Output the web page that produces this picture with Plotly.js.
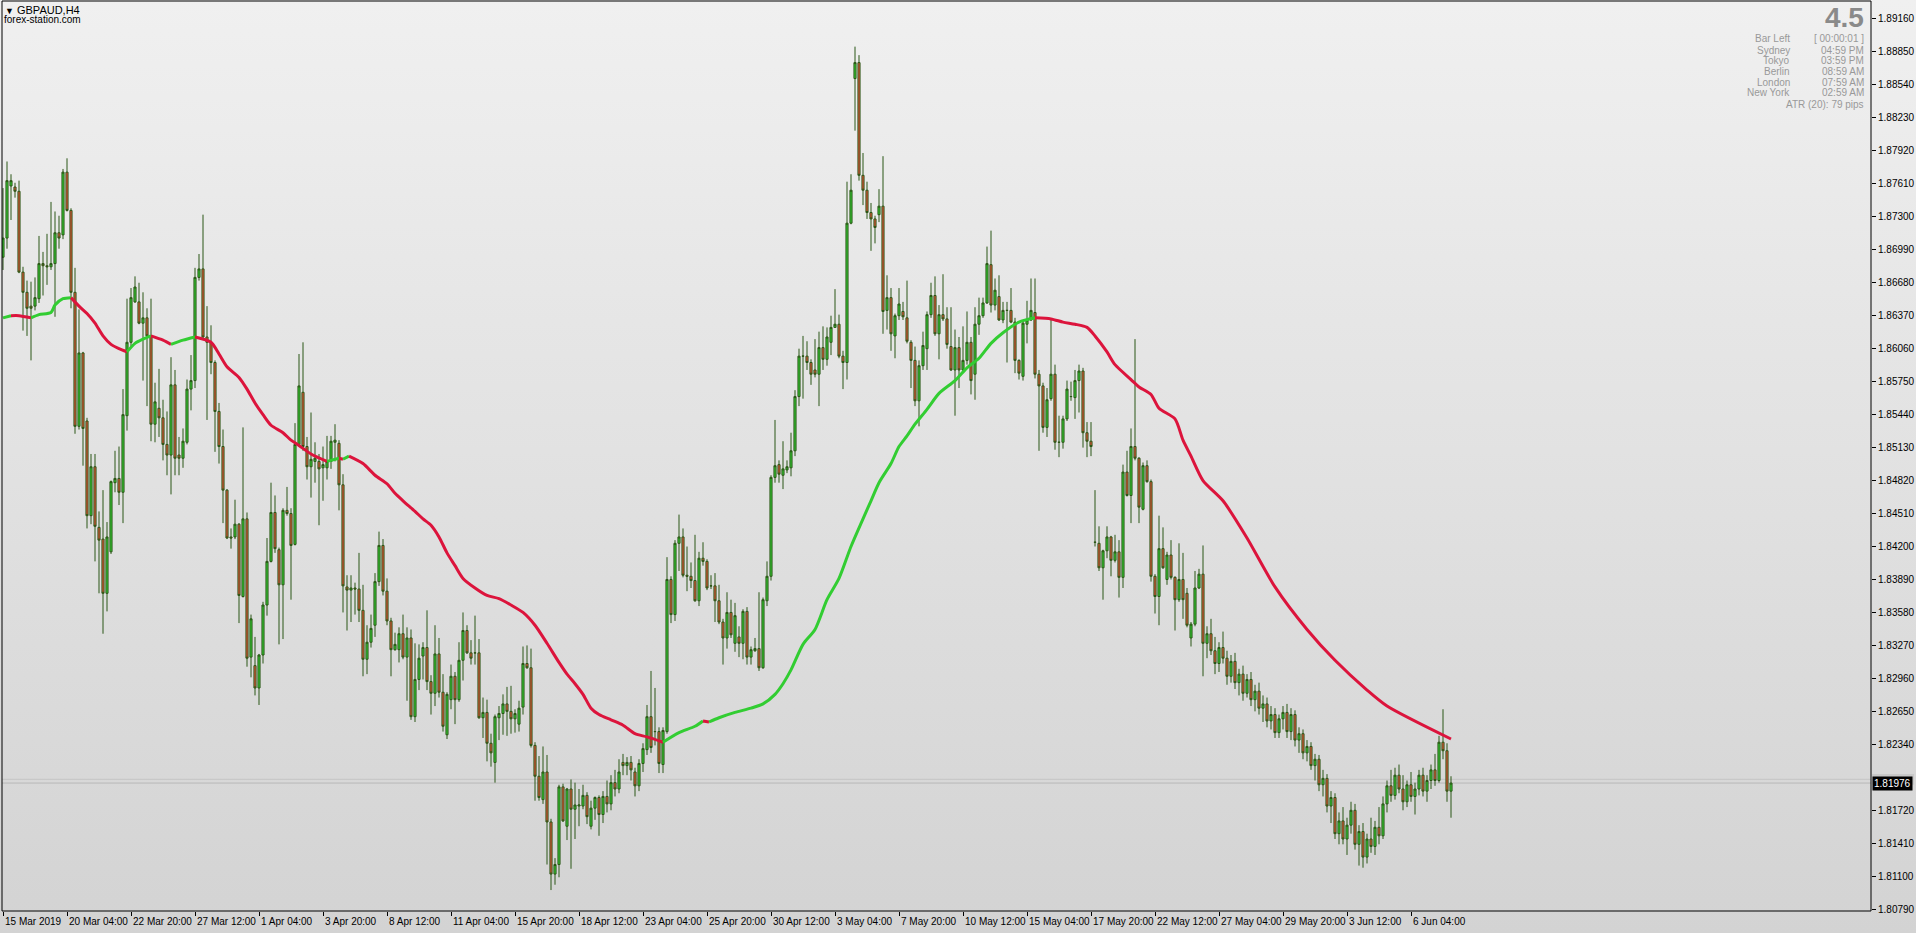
<!DOCTYPE html>
<html><head><meta charset="utf-8">
<script src="https://cdn.plot.ly/plotly-3.0.1.min.js"></script>
<style>
html,body{margin:0;padding:0;width:1916px;height:933px;overflow:hidden;background:linear-gradient(#f0f0f0,#d3d3d3);}
#chart{width:1916px;height:933px;}
</style>
</head><body><div id="chart"></div>
<script>
// ---------------- DATA ----------------
const symbol = 'GBPAUD,H4';
const siteName = 'forex-station.com';
const opens = [
1.8692,1.8710,1.8759,1.8758,1.8754,1.8678,1.8659,1.8646,1.8646,1.8653,
1.8686,1.8684,1.8683,1.8686,1.8715,1.8713,1.8772,1.8736,1.8659,1.8533,
1.8602,1.8538,1.8449,1.8495,1.8438,1.8427,1.8376,1.8415,1.8480,1.8484,
1.8471,1.8543,1.8612,1.8650,1.8650,1.8630,1.8635,1.8618,1.8535,1.8550,
1.8541,1.8516,1.8506,1.8572,1.8506,1.8503,1.8518,1.8568,1.8576,1.8673,
1.8681,1.8617,1.8612,1.8593,1.8547,1.8514,1.8473,1.8429,1.8429,1.8441,
1.8373,1.8446,1.8316,1.8308,1.8287,1.8318,1.8365,1.8406,1.8452,1.8417,
1.8384,1.8454,1.8451,1.8422,1.8516,1.8565,1.8514,1.8495,1.8500,1.8500,
1.8494,1.8494,1.8500,1.8518,1.8517,1.8478,1.8382,1.8379,1.8381,1.8380,
1.8360,1.8314,1.8330,1.8346,1.8387,1.8421,1.8378,1.8350,1.8323,1.8323,
1.8338,1.8316,1.8334,1.8260,1.8295,1.8317,1.8325,1.8293,1.8282,1.8319,
1.8283,1.8243,1.8276,1.8298,1.8276,1.8313,1.8341,1.8320,1.8320,1.8320,
1.8259,1.8264,1.8235,1.8217,1.8259,1.8263,1.8272,1.8265,1.8258,1.8253,
1.8269,1.8310,1.8306,1.8233,1.8204,1.8182,1.8208,1.8161,1.8112,1.8121,
1.8194,1.8157,1.8192,1.8173,1.8176,1.8176,1.8186,1.8157,1.8174,1.8184,
1.8168,1.8185,1.8178,1.8198,1.8192,1.8217,1.8214,1.8217,1.8208,1.8195,
1.8216,1.8229,1.8260,1.8246,1.8246,1.8215,1.8246,1.8389,1.8356,1.8423,
1.8429,1.8393,1.8392,1.8388,1.8369,1.8409,1.8406,1.8383,1.8383,1.8369,
1.8349,1.8334,1.8358,1.8329,1.8335,1.8329,1.8359,1.8316,1.8322,1.8324,
1.8306,1.8369,1.8392,1.8485,1.8497,1.8487,1.8492,1.8494,1.8510,1.8561,
1.8599,1.8599,1.8593,1.8586,1.8582,1.8607,1.8596,1.8612,1.8626,1.8629,
1.8599,1.8593,1.8724,1.8860,1.8875,1.8769,1.8755,1.8734,1.8728,1.8732,
1.8740,1.8642,1.8654,1.8618,1.8637,1.8641,1.8635,1.8612,1.8595,1.8557,
1.8590,1.8606,1.8638,1.8656,1.8620,1.8638,1.8634,1.8608,1.8586,1.8607,
1.8586,1.8595,1.8612,1.8582,1.8629,1.8637,1.8649,1.8685,1.8647,1.8655,
1.8633,1.8642,1.8642,1.8631,1.8595,1.8580,1.8629,1.8633,1.8640,1.8582,
1.8571,1.8532,1.8559,1.8582,1.8518,1.8518,1.8540,1.8561,1.8560,1.8576,
1.8585,1.8527,1.8519,1.8424,1.8423,1.8400,1.8416,1.8429,1.8407,1.8415,
1.8391,1.8490,1.8468,1.8514,1.8503,1.8455,1.8496,1.8481,1.8392,1.8373,
1.8418,1.8389,1.8412,1.8391,1.8370,1.8389,1.8376,1.8334,1.8347,1.8381,
1.8394,1.8329,1.8338,1.8322,1.8310,1.8325,1.8315,1.8298,1.8312,1.8292,
1.8300,1.8282,1.8295,1.8276,1.8284,1.8268,1.8272,1.8256,1.8262,1.8245,
1.8258,1.8264,1.8246,1.8262,1.8238,1.8244,1.8226,1.8232,1.8214,1.8220,
1.8196,1.8202,1.8176,1.8184,1.8150,1.8162,1.8145,1.8158,1.8172,1.8140,
1.8152,1.8128,1.8145,1.8138,1.8156,1.8148,1.8178,1.8195,1.8186,1.8205,
1.8192,1.8180,1.8196,1.8185,1.8192,1.8205,1.8190,1.8200,1.8210,1.8200,
1.8236,1.8228,1.8190];
const highs = [
1.8757,1.8782,1.8770,1.8762,1.8764,1.8683,1.8670,1.8669,1.8673,1.8712,
1.8697,1.8714,1.8744,1.8735,1.8731,1.8775,1.8785,1.8738,1.8682,1.8643,
1.8603,1.8541,1.8507,1.8507,1.8453,1.8473,1.8443,1.8482,1.8510,1.8514,
1.8568,1.8653,1.8663,1.8674,1.8668,1.8659,1.8644,1.8653,1.8574,1.8587,
1.8558,1.8547,1.8598,1.8586,1.8523,1.8531,1.8577,1.8600,1.8682,1.8695,
1.8732,1.8646,1.8628,1.8595,1.8555,1.8530,1.8474,1.8437,1.8464,1.8442,
1.8532,1.8452,1.8356,1.8335,1.8319,1.8368,1.8428,1.8480,1.8468,1.8419,
1.8456,1.8476,1.8456,1.8536,1.8601,1.8612,1.8523,1.8546,1.8518,1.8507,
1.8514,1.8524,1.8524,1.8535,1.8520,1.8488,1.8393,1.8393,1.8386,1.8414,
1.8384,1.8346,1.8356,1.8395,1.8434,1.8427,1.8390,1.8353,1.8339,1.8344,
1.8356,1.8344,1.8342,1.8329,1.8328,1.8330,1.8360,1.8299,1.8346,1.8334,
1.8300,1.8283,1.8309,1.8302,1.8330,1.8358,1.8346,1.8332,1.8355,1.8333,
1.8278,1.8276,1.8244,1.8262,1.8270,1.8281,1.8288,1.8289,1.8267,1.8275,
1.8326,1.8327,1.8324,1.8236,1.8223,1.8232,1.8224,1.8164,1.8127,1.8196,
1.8197,1.8193,1.8201,1.8198,1.8192,1.8196,1.8189,1.8181,1.8185,1.8186,
1.8190,1.8200,1.8205,1.8210,1.8220,1.8225,1.8222,1.8223,1.8212,1.8220,
1.8235,1.8271,1.8303,1.8287,1.8250,1.8250,1.8410,1.8392,1.8426,1.8450,
1.8437,1.8420,1.8405,1.8431,1.8415,1.8424,1.8408,1.8393,1.8395,1.8384,
1.8352,1.8377,1.8370,1.8367,1.8345,1.8361,1.8363,1.8326,1.8334,1.8377,
1.8372,1.8406,1.8487,1.8539,1.8501,1.8519,1.8501,1.8527,1.8567,1.8606,
1.8618,1.8613,1.8596,1.8615,1.8622,1.8627,1.8626,1.8637,1.8662,1.8638,
1.8604,1.8763,1.8770,1.8890,1.8882,1.8790,1.8763,1.8743,1.8731,1.8756,
1.8787,1.8675,1.8663,1.8639,1.8663,1.8650,1.8670,1.8614,1.8608,1.8595,
1.8622,1.8641,1.8668,1.8674,1.8647,1.8676,1.8645,1.8645,1.8624,1.8617,
1.8627,1.8641,1.8617,1.8645,1.8654,1.8654,1.8702,1.8717,1.8672,1.8675,
1.8650,1.8650,1.8663,1.8635,1.8596,1.8632,1.8651,1.8672,1.8672,1.8586,
1.8574,1.8569,1.8633,1.8591,1.8543,1.8543,1.8576,1.8575,1.8586,1.8591,
1.8588,1.8537,1.8537,1.8473,1.8439,1.8417,1.8439,1.8430,1.8431,1.8426,
1.8497,1.8510,1.8531,1.8615,1.8504,1.8499,1.8501,1.8483,1.8394,1.8449,
1.8438,1.8415,1.8426,1.8392,1.8423,1.8414,1.8381,1.8349,1.8397,1.8399,
1.8421,1.8345,1.8352,1.8335,1.8330,1.8340,1.8322,1.8318,1.8320,1.8305,
1.8308,1.8300,1.8302,1.8290,1.8292,1.8280,1.8278,1.8270,1.8268,1.8262,
1.8270,1.8272,1.8268,1.8266,1.8250,1.8248,1.8238,1.8236,1.8225,1.8224,
1.8210,1.8206,1.8190,1.8188,1.8170,1.8175,1.8165,1.8180,1.8178,1.8158,
1.8160,1.8150,1.8165,1.8162,1.8175,1.8185,1.8200,1.8210,1.8212,1.8215,
1.8205,1.8200,1.8208,1.8198,1.8210,1.8212,1.8205,1.8215,1.8225,1.8242,
1.8267,1.8235,1.8204];
const lows = [
1.8680,1.8700,1.8727,1.8748,1.8677,1.8623,1.8618,1.8595,1.8642,1.8649,
1.8656,1.8666,1.8680,1.8636,1.8700,1.8709,1.8735,1.8644,1.8526,1.8530,
1.8496,1.8437,1.8441,1.8406,1.8376,1.8338,1.8359,1.8413,1.8471,1.8459,
1.8442,1.8529,1.8608,1.8649,1.8629,1.8576,1.8552,1.8519,1.8518,1.8523,
1.8501,1.8487,1.8469,1.8487,1.8487,1.8494,1.8516,1.8548,1.8569,1.8670,
1.8615,1.8539,1.8582,1.8509,1.8498,1.8442,1.8427,1.8418,1.8427,1.8348,
1.8372,1.8307,1.8297,1.8280,1.8271,1.8310,1.8355,1.8405,1.8414,1.8328,
1.8333,1.8449,1.8370,1.8421,1.8514,1.8510,1.8483,1.8466,1.8480,1.8440,
1.8463,1.8483,1.8493,1.8500,1.8454,1.8358,1.8341,1.8349,1.8356,1.8349,
1.8298,1.8300,1.8325,1.8335,1.8383,1.8374,1.8346,1.8298,1.8322,1.8311,
1.8314,1.8275,1.8257,1.8255,1.8285,1.8295,1.8285,1.8262,1.8270,1.8278,
1.8246,1.8239,1.8267,1.8253,1.8274,1.8294,1.8319,1.8309,1.8309,1.8258,
1.8240,1.8218,1.8213,1.8198,1.8238,1.8243,1.8242,1.8244,1.8245,1.8246,
1.8262,1.8305,1.8231,1.8181,1.8181,1.8178,1.8121,1.8097,1.8102,1.8109,
1.8161,1.8144,1.8117,1.8145,1.8157,1.8173,1.8159,1.8154,1.8163,1.8148,
1.8160,1.8170,1.8172,1.8185,1.8188,1.8205,1.8205,1.8200,1.8185,1.8190,
1.8208,1.8224,1.8226,1.8233,1.8207,1.8207,1.8244,1.8348,1.8350,1.8397,
1.8391,1.8378,1.8381,1.8368,1.8364,1.8402,1.8379,1.8380,1.8349,1.8347,
1.8309,1.8324,1.8334,1.8321,1.8316,1.8314,1.8309,1.8309,1.8321,1.8303,
1.8305,1.8364,1.8388,1.8480,1.8480,1.8474,1.8489,1.8486,1.8505,1.8552,
1.8559,1.8586,1.8572,1.8579,1.8552,1.8586,1.8590,1.8600,1.8626,1.8597,
1.8568,1.8577,1.8723,1.8811,1.8764,1.8741,1.8728,1.8698,1.8705,1.8725,
1.8620,1.8624,1.8604,1.8597,1.8633,1.8633,1.8611,1.8569,1.8552,1.8533,
1.8586,1.8586,1.8635,1.8618,1.8596,1.8632,1.8606,1.8585,1.8543,1.8569,
1.8585,1.8591,1.8563,1.8558,1.8619,1.8635,1.8648,1.8640,1.8642,1.8632,
1.8630,1.8593,1.8630,1.8583,1.8577,1.8576,1.8611,1.8632,1.8578,1.8510,
1.8527,1.8523,1.8557,1.8511,1.8504,1.8512,1.8538,1.8557,1.8540,1.8546,
1.8513,1.8504,1.8505,1.8420,1.8397,1.8370,1.8409,1.8392,1.8405,1.8372,
1.8381,1.8467,1.8442,1.8501,1.8442,1.8454,1.8480,1.8387,1.8357,1.8346,
1.8399,1.8384,1.8389,1.8341,1.8368,1.8352,1.8344,1.8326,1.8345,1.8380,
1.8298,1.8315,1.8318,1.8300,1.8302,1.8310,1.8290,1.8292,1.8286,1.8280,
1.8275,1.8278,1.8270,1.8265,1.8262,1.8255,1.8250,1.8248,1.8240,1.8240,
1.8248,1.8240,1.8238,1.8232,1.8226,1.8220,1.8218,1.8210,1.8200,1.8190,
1.8185,1.8170,1.8160,1.8145,1.8140,1.8140,1.8130,1.8150,1.8135,1.8120,
1.8118,1.8122,1.8132,1.8130,1.8140,1.8145,1.8170,1.8180,1.8182,1.8188,
1.8172,1.8175,1.8180,1.8168,1.8186,1.8185,1.8180,1.8192,1.8195,1.8198,
1.8220,1.8180,1.8165];
const closes = [
1.8710,1.8764,1.8764,1.8754,1.8678,1.8659,1.8644,1.8644,1.8654,1.8686,
1.8684,1.8683,1.8686,1.8715,1.8710,1.8772,1.8736,1.8659,1.8533,1.8602,
1.8531,1.8449,1.8495,1.8439,1.8426,1.8376,1.8429,1.8481,1.8484,1.8471,
1.8544,1.8612,1.8654,1.8664,1.8630,1.8635,1.8618,1.8535,1.8556,1.8541,
1.8516,1.8506,1.8572,1.8503,1.8503,1.8519,1.8568,1.8576,1.8673,1.8681,
1.8617,1.8612,1.8593,1.8547,1.8514,1.8473,1.8428,1.8428,1.8441,1.8374,
1.8446,1.8315,1.8352,1.8287,1.8318,1.8365,1.8406,1.8452,1.8418,1.8384,
1.8454,1.8451,1.8421,1.8516,1.8571,1.8514,1.8495,1.8502,1.8503,1.8493,
1.8497,1.8500,1.8519,1.8520,1.8478,1.8383,1.8379,1.8381,1.8380,1.8360,
1.8314,1.8330,1.8343,1.8387,1.8421,1.8378,1.8350,1.8323,1.8328,1.8338,
1.8316,1.8334,1.8260,1.8295,1.8315,1.8325,1.8293,1.8282,1.8319,1.8283,
1.8251,1.8281,1.8298,1.8276,1.8313,1.8341,1.8320,1.8315,1.8320,1.8259,
1.8264,1.8235,1.8226,1.8260,1.8263,1.8272,1.8265,1.8258,1.8263,1.8268,
1.8310,1.8306,1.8233,1.8204,1.8184,1.8208,1.8161,1.8112,1.8121,1.8194,
1.8162,1.8192,1.8173,1.8177,1.8177,1.8186,1.8166,1.8174,1.8184,1.8168,
1.8185,1.8178,1.8198,1.8192,1.8208,1.8214,1.8217,1.8210,1.8195,1.8216,
1.8230,1.8260,1.8231,1.8246,1.8216,1.8247,1.8389,1.8356,1.8423,1.8429,
1.8393,1.8392,1.8388,1.8369,1.8409,1.8406,1.8381,1.8383,1.8369,1.8349,
1.8334,1.8358,1.8337,1.8355,1.8329,1.8359,1.8316,1.8323,1.8324,1.8306,
1.8370,1.8392,1.8485,1.8496,1.8488,1.8493,1.8495,1.8510,1.8561,1.8599,
1.8599,1.8593,1.8582,1.8582,1.8607,1.8596,1.8617,1.8626,1.8629,1.8599,
1.8593,1.8724,1.8755,1.8875,1.8769,1.8755,1.8734,1.8728,1.8720,1.8740,
1.8641,1.8654,1.8620,1.8637,1.8648,1.8636,1.8613,1.8595,1.8557,1.8590,
1.8609,1.8638,1.8656,1.8620,1.8638,1.8634,1.8610,1.8586,1.8607,1.8586,
1.8595,1.8612,1.8576,1.8629,1.8637,1.8649,1.8686,1.8647,1.8661,1.8633,
1.8642,1.8642,1.8631,1.8595,1.8583,1.8630,1.8633,1.8642,1.8582,1.8571,
1.8532,1.8558,1.8582,1.8518,1.8518,1.8540,1.8568,1.8561,1.8576,1.8585,
1.8527,1.8519,1.8514,1.8424,1.8400,1.8416,1.8429,1.8407,1.8415,1.8391,
1.8490,1.8468,1.8514,1.8503,1.8457,1.8496,1.8481,1.8392,1.8373,1.8418,
1.8400,1.8412,1.8391,1.8370,1.8389,1.8370,1.8346,1.8347,1.8381,1.8394,
1.8329,1.8338,1.8322,1.8310,1.8325,1.8315,1.8298,1.8312,1.8292,1.8300,
1.8282,1.8295,1.8276,1.8284,1.8268,1.8272,1.8256,1.8262,1.8245,1.8258,
1.8264,1.8246,1.8262,1.8238,1.8244,1.8226,1.8232,1.8214,1.8220,1.8196,
1.8202,1.8176,1.8184,1.8150,1.8162,1.8145,1.8158,1.8172,1.8140,1.8152,
1.8128,1.8145,1.8138,1.8156,1.8148,1.8178,1.8195,1.8186,1.8205,1.8192,
1.8180,1.8196,1.8185,1.8192,1.8205,1.8190,1.8200,1.8210,1.8200,1.8236,
1.8228,1.8190,1.81976];

// Moving average readings: bar index, value, trend of segment starting there (1 up, -1 down)
const maIdx = [0,2,4,7,9,12,13,15,17,19,21,23,25,27,29,31,33,35,37,40,42,45,48,52,54,56,59,61,63,65,67,70,72,74,77,81,84,85,86.5,90,93,96,98,100,103,105,107,109,111,113,115,118,121,124,127,130,133,136,139,141,143,145,147,149,152,155,158,161,165,169,173,175,176.5,179,183,187,190,193,195,197,200,203,206,209,212,215,217,219,222,224,226,228,231,234,238,241,244,247,250,254,258,262,265,268,271,273,276,278,282,284,287,289,293,295,297,300,305,311,318,326,333,341,346,362];
const maVal = [1.8635,1.8637,1.8637,1.8635,1.8638,1.8640,1.8647,1.8653,1.8654,1.8646,1.8639,1.8630,1.8618,1.8610,1.8606,1.8603,1.8611,1.8615,1.8618,1.8614,1.8610,1.8614,1.8617,1.8612,1.8601,1.8589,1.8579,1.8568,1.8555,1.8544,1.8534,1.8527,1.8520,1.8515,1.8507,1.8500,1.8503,1.8502,1.8505,1.8498,1.8487,1.8479,1.8470,1.8463,1.8453,1.8446,1.8440,1.8429,1.8414,1.8402,1.8390,1.8381,1.8374,1.8371,1.8365,1.8358,1.8346,1.8329,1.8311,1.8300,1.8291,1.8281,1.8268,1.8262,1.8257,1.8252,1.8244,1.8241,1.8236,1.8245,1.8251,1.8256,1.8255,1.8259,1.8264,1.8268,1.8272,1.8281,1.8291,1.8304,1.8328,1.8342,1.8370,1.8390,1.8420,1.8446,1.8463,1.8480,1.8498,1.8514,1.8524,1.8535,1.8549,1.8564,1.8576,1.8588,1.8597,1.8611,1.8621,1.8631,1.8635,1.8634,1.8631,1.8629,1.8626,1.8618,1.8603,1.8591,1.8577,1.8570,1.8563,1.8550,1.8540,1.8520,1.8505,1.8482,1.8463,1.8428,1.8382,1.8342,1.8313,1.8285,1.8270,1.8239];
const maTrend = [1,-1,-1,1,1,1,1,1,-1,-1,-1,-1,-1,-1,-1,1,1,1,-1,-1,1,1,-1,-1,-1,-1,-1,-1,-1,-1,-1,-1,-1,-1,-1,1,-1,1,-1,-1,-1,-1,-1,-1,-1,-1,-1,-1,-1,-1,-1,-1,-1,-1,-1,-1,-1,-1,-1,-1,-1,-1,-1,-1,-1,-1,-1,-1,1,1,1,-1,1,1,1,1,1,1,1,1,1,1,1,1,1,1,1,1,1,1,1,1,1,1,1,1,1,1,1,1,-1,-1,-1,-1,-1,-1,-1,-1,-1,-1,-1,-1,-1,-1,-1,-1,-1,-1,-1,-1,-1,-1,-1,-1,-1];

const timeLabels = ['15 Mar 2019','20 Mar 04:00','22 Mar 20:00','27 Mar 12:00','1 Apr 04:00','3 Apr 20:00','8 Apr 12:00','11 Apr 04:00','15 Apr 20:00','18 Apr 12:00','23 Apr 04:00','25 Apr 20:00','30 Apr 12:00','3 May 04:00','7 May 20:00','10 May 12:00','15 May 04:00','17 May 20:00','22 May 12:00','27 May 04:00','29 May 20:00','3 Jun 12:00','6 Jun 04:00'];
const barsPerLabel = 16;
// 1.82030 is hidden under the bid/ask price tabs, as in the reference
const priceTicks = [1.80790,1.81100,1.81410,1.81720,1.82340,1.82650,1.82960,1.83270,1.83580,1.83890,1.84200,1.84510,1.84820,1.85130,1.85440,1.85750,1.86060,1.86370,1.86680,1.86990,1.87300,1.87610,1.87920,1.88230,1.88540,1.88850,1.89160];
const bidPrice = 1.81976;
const askPrice = 1.82011;

const infoBig = '4.5';
const infoLabels = ['Bar Left','Sydney','Tokyo','Berlin','London','New York'];
const infoValues = ['[ 00:00:01 ]','04:59 PM','03:59 PM','08:59 AM','07:59 AM','02:59 AM'];
const atrText = 'ATR (20): 79 pips';

// ---------------- LAYOUT HELPERS ----------------
const FONT = 'Liberation Sans, Arial, sans-serif';
const plotL = 2, plotR = 1871, plotT = 1, plotB = 911;
const px = x => (x - plotL) / (plotR - plotL);
const py = y => (plotB - y) / (plotB - plotT);

const barIdx = opens.map((_, i) => i);
const OUTLINE = '#2b5716';
const BULL = '#33cc33';
const BEAR = '#e8503a';
const MA_UP = '#32cd32';
const MA_DN = '#dc143c';

const traces = [{
  type: 'candlestick', x: barIdx, open: opens, high: highs, low: lows, close: closes,
  increasing: {line: {color: OUTLINE, width: 1}, fillcolor: BULL},
  decreasing: {line: {color: OUTLINE, width: 1}, fillcolor: BEAR},
  whiskerwidth: 0, hoverinfo: 'skip', showlegend: false
}];

let start = 0;
for (let k = 1; k <= maIdx.length; k++) {
  if (k === maIdx.length || maTrend[k] !== maTrend[start]) {
    const end = Math.min(k, maIdx.length - 1);
    traces.push({type: 'scatter', mode: 'lines', x: maIdx.slice(start, end + 1), y: maVal.slice(start, end + 1),
      line: {color: maTrend[start] > 0 ? MA_UP : MA_DN, width: 3, shape: 'spline', smoothing: 0.7},
      hoverinfo: 'skip', showlegend: false});
    start = k;
  }
}

const annotations = [];
timeLabels.forEach((t, k) => {
  annotations.push({x: k * barsPerLabel, xref: 'x', y: 0, yref: 'paper', yanchor: 'top', xanchor: 'left',
    xshift: 0, yshift: -3, text: t, showarrow: false, font: {family: FONT, size: 10, color: '#000'}});
});
annotations.push({x: px(3), y: py(10), xref: 'paper', yref: 'paper', xanchor: 'left', yanchor: 'middle',
  text: '<span style="font-size:9px">▼</span> ' + symbol, showarrow: false, font: {family: FONT, size: 11, color: '#000'}});
annotations.push({x: px(2), y: py(19), xref: 'paper', yref: 'paper', xanchor: 'left', yanchor: 'middle',
  text: siteName, showarrow: false, font: {family: FONT, size: 10, color: '#000'}});
annotations.push({x: px(1866), y: py(17), xref: 'paper', yref: 'paper', xanchor: 'right', yanchor: 'middle',
  text: '<b>' + infoBig + '</b>', showarrow: false, font: {family: FONT, size: 28, color: '#8a8a8a'}});
const rowY = [39, 50, 61, 72, 82, 93];
infoLabels.forEach((t, k) => {
  annotations.push({x: px(1792), y: py(rowY[k]), xref: 'paper', yref: 'paper', xanchor: 'right', yanchor: 'middle',
    text: t, showarrow: false, font: {family: FONT, size: 10, color: '#999999'}});
  annotations.push({x: px(1866), y: py(rowY[k]), xref: 'paper', yref: 'paper', xanchor: 'right', yanchor: 'middle',
    text: infoValues[k], showarrow: false, font: {family: FONT, size: 10, color: '#999999'}});
});
annotations.push({x: px(1866), y: py(104), xref: 'paper', yref: 'paper', xanchor: 'right', yanchor: 'middle',
  text: atrText, showarrow: false, font: {family: FONT, size: 10, color: '#999999'}});
annotations.push({x: px(1872), y: bidPrice, xref: 'paper', yref: 'y', xanchor: 'left', yanchor: 'middle',
  text: bidPrice.toFixed(5), showarrow: false, bgcolor: '#000000', borderpad: 1, font: {family: FONT, size: 10, color: '#ffffff'}});

const shapes = [
  {type: 'line', xref: 'paper', x0: 0, x1: 1, yref: 'y', y0: askPrice, y1: askPrice, line: {color: '#c4c4c4', width: 1}, layer: 'below'},
  {type: 'line', xref: 'paper', x0: 0, x1: 1, yref: 'y', y0: bidPrice, y1: bidPrice, line: {color: '#b8b8b8', width: 1}, layer: 'below'},
  {type: 'rect', xref: 'paper', x0: px(1872), x1: px(1914), yref: 'y', y0: askPrice - 0.0005, y1: askPrice + 0.0005, line: {width: 0}, fillcolor: '#c8c8c8', layer: 'above'},
  {type: 'rect', xref: 'paper', yref: 'paper', x0: 0, x1: 1, y0: 0, y1: 1, line: {color: '#000', width: 1}, layer: 'above'}
];

const layout = {
  width: 1916, height: 933,
  margin: {l: plotL, r: 1916 - plotR, t: plotT, b: 933 - plotB, pad: 0},
  paper_bgcolor: 'rgba(0,0,0,0)', plot_bgcolor: 'rgba(0,0,0,0)',
  showlegend: false, boxgap: 0.25,
  xaxis: {range: [-0.25, 467], tickvals: timeLabels.map((_, k) => k * barsPerLabel), ticktext: timeLabels.map(() => ''),
    ticks: 'outside', ticklen: 4, tickcolor: '#000', tickwidth: 1, showgrid: false, zeroline: false, showline: false,
    showticklabels: false, rangeslider: {visible: false}, fixedrange: true},
  yaxis: {side: 'right', range: [1.80773, 1.89329], tickvals: priceTicks, ticktext: priceTicks.map(v => v.toFixed(5)),
    ticks: 'outside', ticklen: 4, tickcolor: '#000', tickwidth: 1, showgrid: false, zeroline: false, showline: false,
    tickfont: {family: FONT, size: 10, color: '#000'}, fixedrange: true},
  annotations: annotations, shapes: shapes
};

Plotly.newPlot('chart', traces, layout, {staticPlot: true, displayModeBar: false});
</script>
</body></html>
